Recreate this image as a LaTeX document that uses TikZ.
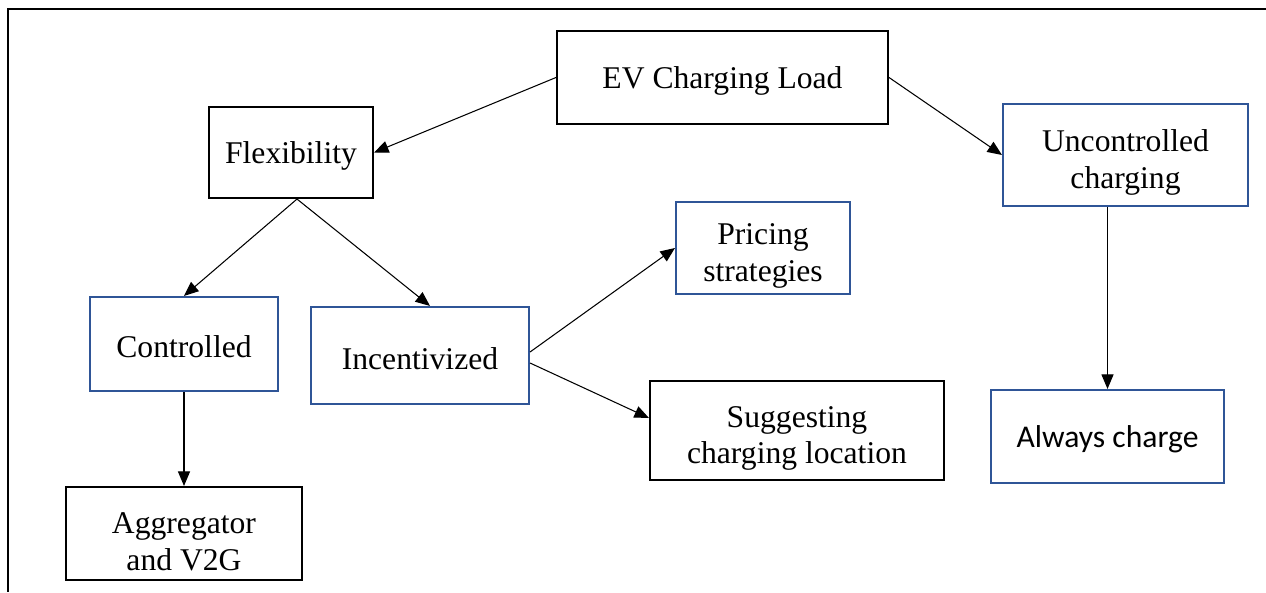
\documentclass[tikz,border=0pt]{standalone}
\usepackage{fontspec}
\setmainfont{Liberation Serif}
\newfontfamily\calibri{Carlito}
\usetikzlibrary{arrows.meta}
\definecolor{boxblue}{HTML}{2F5597}

\begin{document}
\begin{tikzpicture}[x=0.02cm, y=-0.02cm,
  box/.style={draw, line width=1.2pt, align=center, inner sep=0pt,
    font=\fontsize{18}{21}\selectfont, text height=16pt},
  twoline/.style={text height=42pt},
  blackbox/.style={box, draw=black},
  bluebox/.style={box, draw=boxblue},
  arr/.style={-{Triangle[length=2.9mm,width=2.4mm]}, line width=0.6pt}]
  \useasboundingbox (0,0) rectangle (1266,592);
  \draw[line width=1.3pt] (1266,9) -- (8,9) -- (8,592);

  \node[blackbox, minimum width=6.62cm, minimum height=1.86cm] (ev) at (722.5,77.5) {EV Charging Load};
  \node[blackbox, minimum width=3.28cm, minimum height=1.82cm] (flex) at (291,152.5) {Flexibility};
  \node[bluebox, twoline, minimum width=4.90cm, minimum height=2.04cm] (unctrl) at (1125.5,155) {Uncontrolled\\charging};
  \node[bluebox, twoline, minimum width=3.48cm, minimum height=1.84cm] (pricing) at (763,248) {Pricing\\strategies};
  \node[bluebox, minimum width=3.76cm, minimum height=1.88cm] (ctrl) at (184,344) {Controlled};
  \node[bluebox, minimum width=4.36cm, minimum height=1.94cm] (incent) at (420,355.5) {Incentivized};
  \node[blackbox, twoline, minimum width=5.88cm, minimum height=1.98cm] (suggest) at (797,430.5) {Suggesting\\charging location};
  \node[blackbox, twoline, minimum width=4.72cm, minimum height=1.86cm] (aggr) at (184,533.5) {Aggregator\\and V2G};
  \node[bluebox, minimum width=4.66cm, minimum height=1.86cm, font=\calibri\fontsize{18}{21}\selectfont] (always) at (1107.5,436.5) {Always charge};

  \draw[arr] (ev.west) -- (flex.east);
  \draw[arr] (ev.east) -- (unctrl.west);
  \draw[arr] ([xshift=0.12cm]flex.south) -- (ctrl.north);
  \draw[arr] ([xshift=0.12cm]flex.south) -- ([xshift=0.2cm]incent.north);
  \draw[arr] ([yshift=0.07cm]incent.east) -- (pricing.west);
  \draw[arr] ([yshift=-0.15cm]incent.east) -- ([yshift=0.25cm]suggest.west);
  \draw[arr] (ctrl.south) -- (aggr.north);
  \draw[arr] (always.north |- unctrl.south) -- (always.north);
\end{tikzpicture}
\end{document}
